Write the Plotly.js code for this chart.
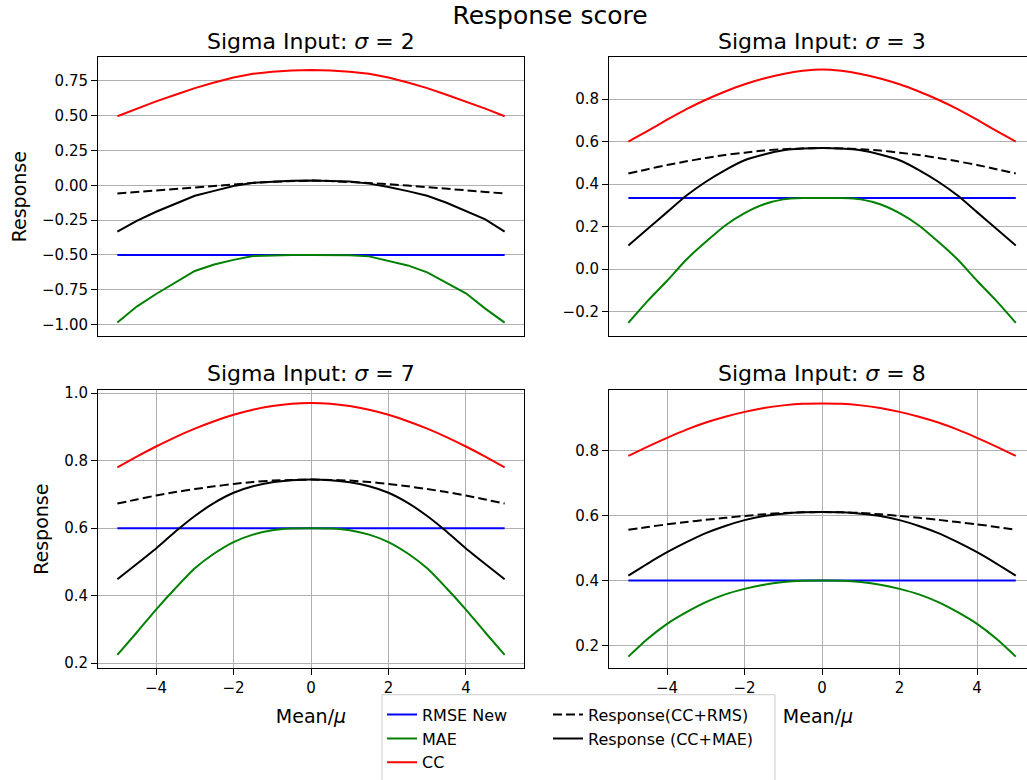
<!DOCTYPE html>
<html>
<head>
<meta charset="utf-8">
<script src="https://cdn.plot.ly/plotly-3.0.1.min.js"></script>
<style>
  html, body { margin: 0; padding: 0; overflow: hidden; background: #fff; }
  #chart { width: 1027px; height: 780px; }
</style>
</head>
<body>
<div id="chart"></div>
<script>
// ---- data ----
const mu = [-5,-4.5,-4,-3.5,-3,-2.5,-2,-1.5,-1,-0.5,0,0.5,1,1.5,2,2.5,3,3.5,4,4.5,5];

const sigmaLabels = ["2", "3", "7", "8"];
const seriesNames = ["RMSE New", "MAE", "CC", "Response(CC+RMS)", "Response (CC+MAE)"];

// sigma = 2
const rmse2 = [-0.5,-0.5,-0.5,-0.5,-0.5,-0.5,-0.5,-0.5,-0.5,-0.5,-0.5,-0.5,-0.5,-0.5,-0.5,-0.5,-0.5,-0.5,-0.5,-0.5,-0.5];
const mae2  = [-0.985,-0.870,-0.780,-0.695,-0.615,-0.568,-0.535,-0.508,-0.502,-0.500,-0.500,-0.500,-0.502,-0.510,-0.540,-0.575,-0.625,-0.700,-0.775,-0.885,-0.985];
const cc2   = [0.495,0.550,0.602,0.650,0.697,0.738,0.774,0.800,0.815,0.824,0.827,0.824,0.815,0.800,0.774,0.738,0.697,0.650,0.602,0.550,0.495];
const rms2  = [-0.059,-0.048,-0.036,-0.024,-0.012,-0.002,0.008,0.017,0.025,0.031,0.034,0.031,0.025,0.017,0.008,-0.002,-0.012,-0.024,-0.036,-0.048,-0.059];
const rmae2 = [-0.333,-0.255,-0.190,-0.130,-0.075,-0.040,-0.005,0.018,0.028,0.033,0.034,0.033,0.028,0.012,-0.012,-0.042,-0.075,-0.125,-0.185,-0.245,-0.333];

// sigma = 3
const rmse3 = [0.335,0.335,0.335,0.335,0.335,0.335,0.335,0.335,0.335,0.335,0.335,0.335,0.335,0.335,0.335,0.335,0.335,0.335,0.335,0.335,0.335];
const mae3  = [-0.253,-0.150,-0.055,0.045,0.128,0.205,0.263,0.305,0.328,0.334,0.335,0.334,0.328,0.305,0.263,0.205,0.128,0.045,-0.055,-0.150,-0.253];
const cc3   = [0.600,0.650,0.703,0.753,0.797,0.836,0.870,0.897,0.918,0.933,0.940,0.933,0.918,0.897,0.870,0.836,0.797,0.753,0.703,0.650,0.600];
const rms3  = [0.450,0.470,0.490,0.507,0.523,0.537,0.548,0.558,0.564,0.568,0.570,0.568,0.564,0.558,0.548,0.537,0.523,0.507,0.490,0.470,0.450];
const rmae3 = [0.111,0.190,0.268,0.346,0.411,0.466,0.512,0.539,0.559,0.567,0.570,0.567,0.559,0.539,0.512,0.466,0.411,0.346,0.268,0.190,0.111];

// sigma = 7
const rmse7 = [0.6,0.6,0.6,0.6,0.6,0.6,0.6,0.6,0.6,0.6,0.6,0.6,0.6,0.6,0.6,0.6,0.6,0.6,0.6,0.6,0.6];
const mae7  = [0.225,0.291,0.359,0.422,0.481,0.525,0.559,0.581,0.594,0.599,0.600,0.599,0.594,0.581,0.559,0.525,0.481,0.422,0.359,0.291,0.225];
const cc7   = [0.780,0.812,0.842,0.870,0.895,0.917,0.936,0.951,0.962,0.969,0.971,0.969,0.962,0.951,0.936,0.917,0.895,0.870,0.842,0.812,0.780];
const rms7  = [0.673,0.685,0.697,0.707,0.716,0.724,0.731,0.737,0.741,0.743,0.744,0.743,0.741,0.737,0.731,0.724,0.716,0.707,0.697,0.685,0.673];
const rmae7 = [0.449,0.494,0.540,0.590,0.636,0.675,0.705,0.724,0.736,0.742,0.744,0.742,0.736,0.724,0.705,0.675,0.636,0.590,0.540,0.494,0.449];

// sigma = 8
const rmse8 = [0.4,0.4,0.4,0.4,0.4,0.4,0.4,0.4,0.4,0.4,0.4,0.4,0.4,0.4,0.4,0.4,0.4,0.4,0.4,0.4,0.4];
const mae8  = [0.165,0.220,0.266,0.302,0.333,0.357,0.374,0.387,0.395,0.399,0.400,0.399,0.395,0.387,0.374,0.357,0.333,0.302,0.266,0.220,0.165];
const cc8   = [0.784,0.813,0.840,0.865,0.887,0.905,0.920,0.932,0.940,0.945,0.946,0.945,0.940,0.932,0.920,0.905,0.887,0.865,0.840,0.813,0.784];
const rms8  = [0.556,0.565,0.573,0.580,0.587,0.593,0.599,0.604,0.608,0.610,0.611,0.610,0.608,0.604,0.599,0.593,0.587,0.580,0.573,0.565,0.556];
const rmae8 = [0.415,0.452,0.487,0.518,0.546,0.568,0.586,0.599,0.606,0.610,0.611,0.610,0.606,0.599,0.586,0.568,0.546,0.518,0.487,0.452,0.415];

// ---- figure ----
const W = 1027, H = 780;
const FONT = "DejaVu Sans, Liberation Sans, sans-serif";
const px = v => v / W;
const py = v => 1 - v / H;

const panels = [
  {data: [rmse2, mae2, cc2, rms2, rmae2], xa: "x",  ya: "y",  shape: "linear"},
  {data: [rmse3, mae3, cc3, rms3, rmae3], xa: "x2", ya: "y2", shape: "spline"},
  {data: [rmse7, mae7, cc7, rms7, rmae7], xa: "x3", ya: "y3", shape: "spline"},
  {data: [rmse8, mae8, cc8, rms8, rmae8], xa: "x4", ya: "y4", shape: "spline"}
];
const styles = [
  {color: "#0000ff", dash: "solid", legend: "legend"},
  {color: "#008000", dash: "solid", legend: "legend"},
  {color: "#ff0000", dash: "solid", legend: "legend"},
  {color: "#000000", dash: "9px,4px", legend: "legend2"},
  {color: "#000000", dash: "solid", legend: "legend2"}
];

const traces = [];
panels.forEach((p, pi) => {
  p.data.forEach((ys, si) => {
    traces.push({
      type: "scatter", mode: "lines",
      x: mu, y: ys,
      xaxis: p.xa, yaxis: p.ya,
      name: seriesNames[si],
      legend: styles[si].legend,
      showlegend: pi === 0,
      line: {color: styles[si].color, width: 2, dash: styles[si].dash,
             shape: si === 0 ? "linear" : p.shape, smoothing: 0.6},
      hoverinfo: "skip"
    });
  });
});

// right column is cut by the right edge of the picture (as in the reference)
const colL = [px(98), px(524)];
const colR = [px(609), 1];
const rangeL = [-5.5, 5.5];
const rangeR = [-5.5, 5.29];
const rowT = [py(339), py(58)];
const rowB = [py(674), py(394)];

function xAxis(domain, anchor, range, bottom) {
  return {
    domain: domain, anchor: anchor, range: range,
    dtick: 2, tick0: 0,
    showgrid: bottom, gridcolor: "#b0b0b0", gridwidth: 1,
    zeroline: false, showline: true, linecolor: "#000", linewidth: 1, mirror: true,
    ticks: bottom ? "outside" : "", ticklen: 6, tickcolor: "#000",
    showticklabels: bottom,
    tickfont: {family: FONT, size: 15, color: "#000"},
    title: bottom ? {text: "Mean/<i>μ</i>", font: {family: FONT, size: 19, color: "#000"}, standoff: 13} : {text: ""}
  };
}
function yAxis(domain, anchor, range, dtick, fmt, label, mirror) {
  return {
    domain: domain, anchor: anchor, range: range,
    dtick: dtick, tick0: 0, tickformat: fmt,
    showgrid: true, gridcolor: "#b0b0b0", gridwidth: 1,
    zeroline: false, showline: true, linecolor: "#000", linewidth: 1, mirror: mirror,
    ticks: "outside", ticklen: 6, tickcolor: "#000",
    tickfont: {family: FONT, size: 15, color: "#000"},
    title: label ? {text: "Response", font: {family: FONT, size: 19, color: "#000"}, standoff: 10} : {text: ""}
  };
}

const titleCenters = [[311, 42], [822, 42], [311, 377], [822, 377]];
const annotations = titleCenters.map((c, i) => ({
  xref: "paper", yref: "paper", x: px(c[0]), y: py(c[1]),
  xanchor: "center", yanchor: "middle", showarrow: false,
  text: "Sigma Input: <i>σ</i> = " + sigmaLabels[i],
  font: {family: FONT, size: 22, color: "#000"}
}));

const legendCommon = {
  orientation: "v", xanchor: "left", yanchor: "top",
  bgcolor: "rgba(0,0,0,0)", borderwidth: 0,
  font: {family: FONT, size: 16, color: "#000"},
  traceorder: "normal"
};

const layout = {
  width: W, height: H,
  margin: {l: 0, r: 0, t: 0, b: 0},
  paper_bgcolor: "#fff", plot_bgcolor: "#fff",
  font: {family: FONT, color: "#000"},
  title: {text: "Response score", font: {family: FONT, size: 25, color: "#000"},
          x: px(550), xanchor: "center", y: py(15), yanchor: "middle"},
  xaxis:  xAxis(colL, "y", rangeL, false),
  xaxis2: xAxis(colR, "y2", rangeR, false),
  xaxis3: xAxis(colL, "y3", rangeL, true),
  xaxis4: xAxis(colR, "y4", rangeR, true),
  yaxis:  yAxis(rowT, "x",  [-1.081, 0.917], 0.25, ".2f", true, true),
  yaxis2: yAxis(rowT, "x2", [-0.315, 0.996], 0.2, ".1f", false, false),
  yaxis3: yAxis(rowB, "x3", [0.186, 1.008], 0.2, ".1f", true, true),
  yaxis4: yAxis(rowB, "x4", [0.13, 0.986], 0.2, ".1f", false, false),
  annotations: annotations,
  shapes: [{
    type: "rect", xref: "paper", yref: "paper", layer: "above",
    x0: px(382), x1: px(775), y0: py(790), y1: py(701),
    fillcolor: "rgba(255,255,255,0.85)", line: {color: "#cccccc", width: 1}
  }],
  showlegend: true,
  legend:  Object.assign({}, legendCommon, {x: px(382), y: py(704)}),
  legend2: Object.assign({}, legendCommon, {x: px(548), y: py(704)})
};

Plotly.newPlot("chart", traces, layout, {displayModeBar: false, staticPlot: true});
</script>
</body>
</html>
